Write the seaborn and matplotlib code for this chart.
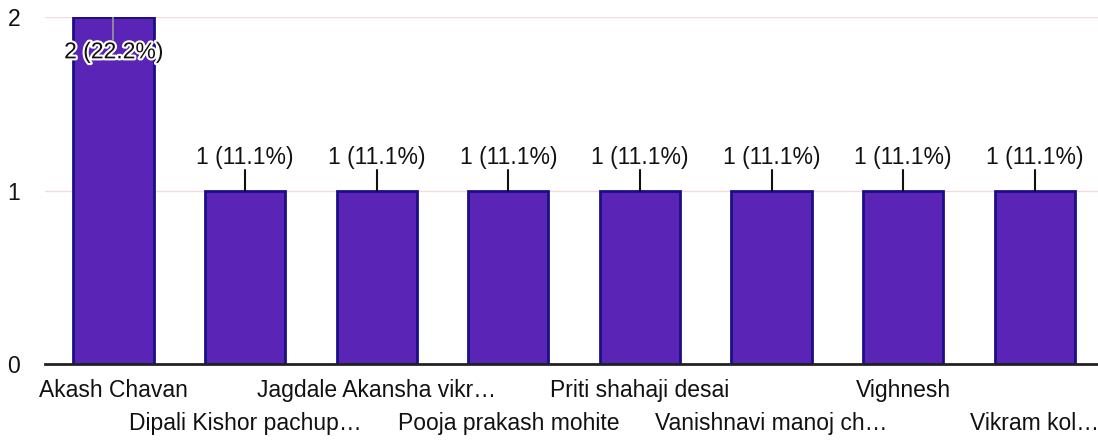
import matplotlib
matplotlib.use("Agg")
import matplotlib.pyplot as plt
import matplotlib.patheffects as pe
import seaborn as sns
import pandas as pd

names = ["Akash Chavan", "Dipali Kishor pachup…", "Jagdale Akansha vikr…",
         "Pooja prakash mohite", "Priti shahaji desai", "Vanishnavi manoj ch…",
         "Vighnesh", "Vikram kol…"]
counts = [2, 1, 1, 1, 1, 1, 1, 1]
labels = ["2 (22.2%)", "1 (11.1%)", "1 (11.1%)", "1 (11.1%)", "1 (11.1%)",
          "1 (11.1%)", "1 (11.1%)", "1 (11.1%)"]
yticks = [0, 1, 2]

sns.set_theme(style="white")
plt.rcParams['font.family'] = ['Liberation Sans', 'DejaVu Sans']

df = pd.DataFrame({"name": names, "count": counts})

fig = plt.figure(figsize=(10.98, 4.40), dpi=100)
ax = fig.add_axes([0.041, 0.173, 0.959, 0.788])

sns.barplot(data=df, x="name", y="count", ax=ax, color="#5a24b6",
            saturation=1, width=0.61, edgecolor="#1a0f86", linewidth=2)

ax.set_xlim(-0.52, 7.48)
ax.set_ylim(0, 2)
ax.set_yticks(yticks)
ax.set_yticklabels([str(t) for t in yticks], fontsize=16.5, color="#111111")
for y in [1, 2]:
    ax.axhline(y, color="#f5dadd", lw=1, zorder=0)

fs = 16.5
even = list(range(0, len(names), 2))
odd = list(range(1, len(names), 2))
ax.set_xticks(even)
ax.set_xticklabels([names[i] for i in even], fontsize=fs, color="#111111")
ax.set_xticks(odd, minor=True)
ax.set_xticklabels([names[i] for i in odd], minor=True, fontsize=fs, color="#111111")
ax.tick_params(axis="x", which="major", length=0, pad=11)
ax.tick_params(axis="x", which="minor", length=0, pad=34.5)
ax.tick_params(axis="y", length=0, pad=18)
ax.set_xlabel("")
ax.set_ylabel("")

for s in ["top", "right", "left"]:
    ax.spines[s].set_visible(False)
ax.spines["bottom"].set_color("#222222")
ax.spines["bottom"].set_linewidth(2)

halo = [pe.withStroke(linewidth=3, foreground="white")]
for i, (c, lab) in enumerate(zip(counts, labels)):
    if c >= max(counts):
        ax.plot([i, i], [c, c - 0.13], color="#999999", lw=1.2, zorder=5)
        ax.text(i, c - 0.2, lab, ha="center", va="center", fontsize=fs,
                color="#111111", path_effects=halo, zorder=6)
    else:
        ax.plot([i, i], [c, c + 0.12], color="#111111", lw=1.5, zorder=5)
        ax.text(i, c + 0.19, lab, ha="center", va="center", fontsize=fs,
                color="#111111", zorder=6)

fig.savefig("out.png", dpi=100)
